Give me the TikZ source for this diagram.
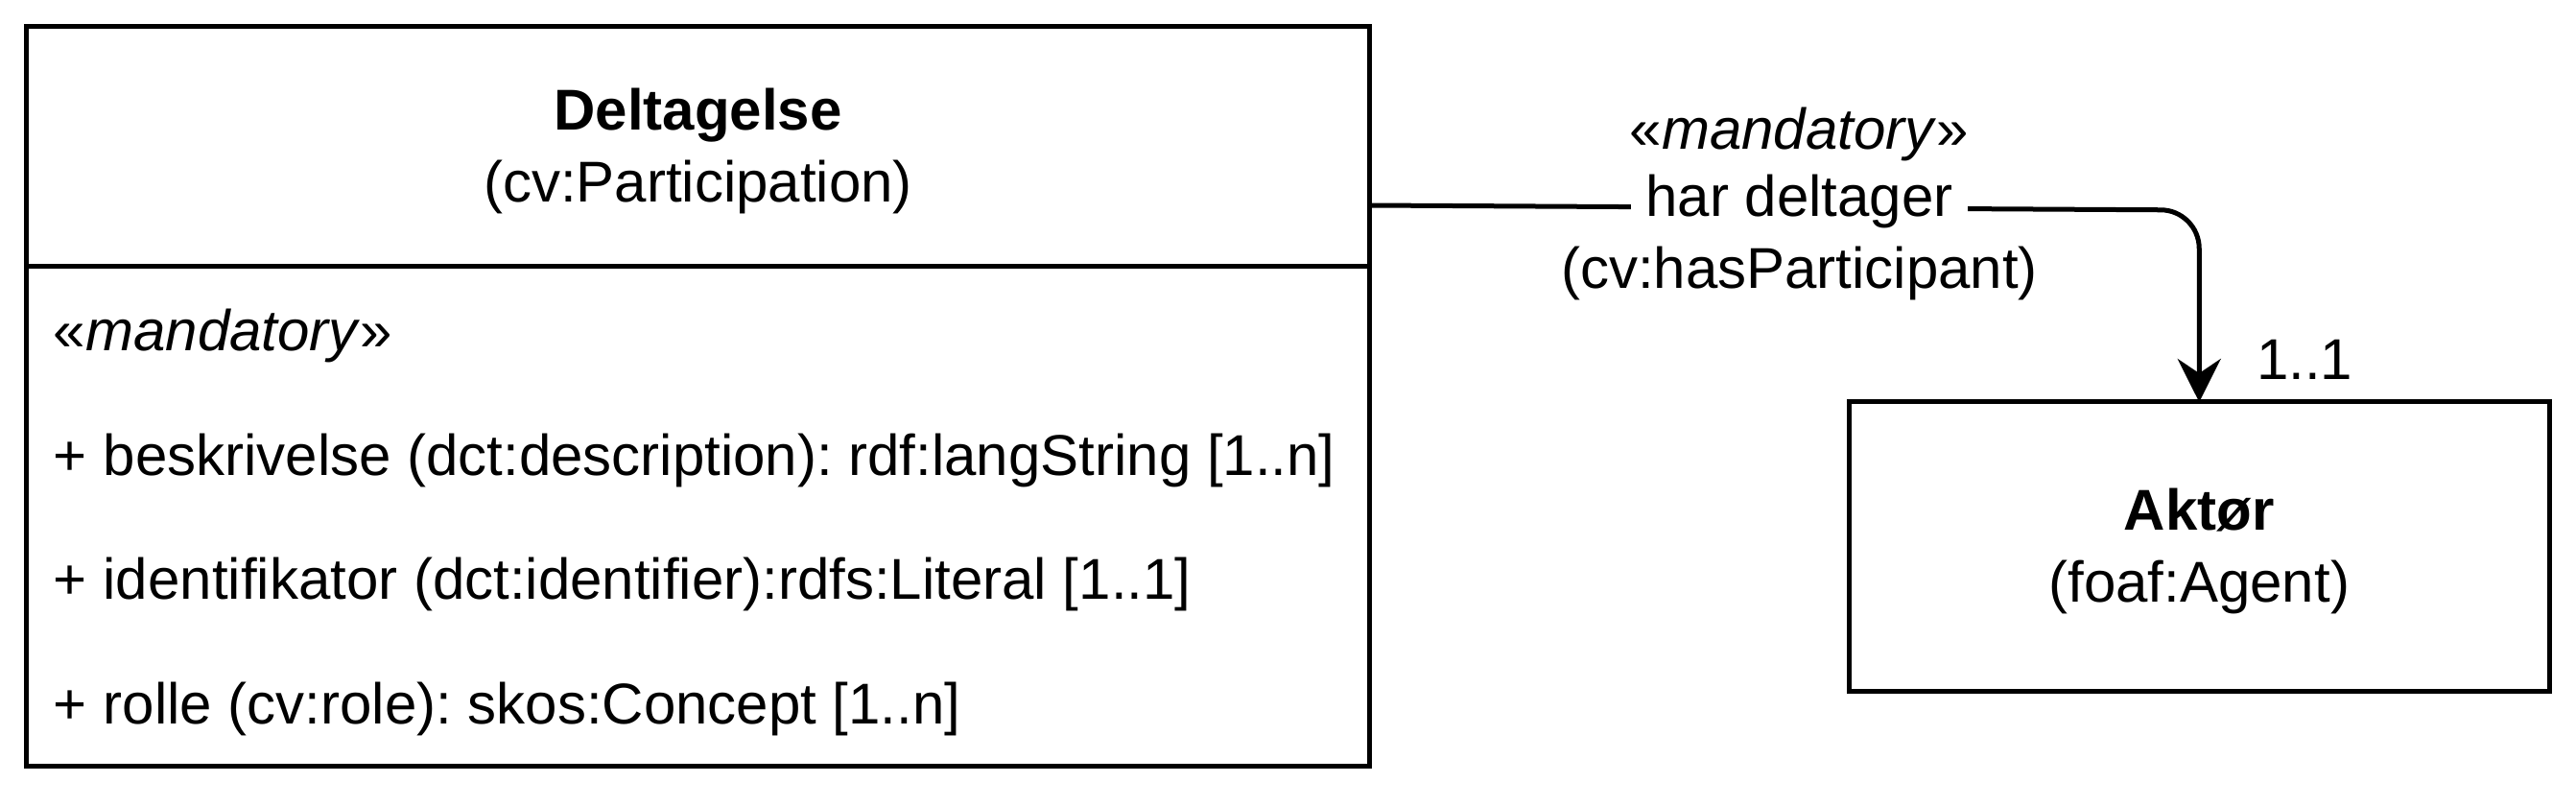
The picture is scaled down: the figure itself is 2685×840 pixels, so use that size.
\documentclass[tikz,border=0pt]{standalone}
\usepackage{fontspec}
\setmainfont{Liberation Sans}
\usetikzlibrary{arrows.meta, positioning}
\frenchspacing

\newcommand{\klassenavn}[1]{\rule{0pt}{10.7pt}\textbf{#1}}

\tikzset{
  klasse/.style={draw, line width=1pt, outer sep=0pt, inner sep=0pt, minimum width=280pt, align=center},
  attr/.style={anchor=base west, inner sep=0pt},
  rolletekst/.style={anchor=base, inner sep=0pt},
}

\begin{document}
\begin{tikzpicture}[x=0.2pt, y=-0.2pt, >={Stealth[length=9pt,width=9pt,inset=3pt]}, font=\fontsize{12}{15}\selectfont]
  \useasboundingbox (0,0) rectangle (2685,840);

  \node[klasse, minimum height=49.9pt, anchor=north west] (deltagelse) at (27.5,27.5) {\klassenavn{Deltagelse}\\(cv:Participation)};
  \node[klasse, minimum height=104.2pt, below=0pt of deltagelse] (attributter) {};

  \node[attr] (stereotype) at (55,365) {«\textit{mandatory}»};
  \node[attr] (beskrivelse) at (55,495) {+ beskrivelse (dct:description): rdf:langString [1..n]};
  \node[attr] (identifikator) at (55,624) {+ identifikator (dct:identifier):rdfs:Literal [1..1]};
  \node[attr] (rolle) at (55,754) {+ rolle (cv:role): skos:Concept [1..n]};

  \node[klasse, minimum width=145.9pt, minimum height=60.2pt] (aktor) at (2292.25,569.5) {\klassenavn{Aktør}\\(foaf:Agent)};

  \coordinate (kilde) at (deltagelse.east |- 0,214);
  \draw[->, line width=1pt, rounded corners=8pt] (kilde) -- (aktor.north |- 0,219) -- (aktor.north);

  \node[rolletekst, fill=white, minimum width=70.2pt] (hardeltager) at (1875.5,225) {har deltager};
  \node[rolletekst] (relstereotype) at (1875.5,155) {«\textit{mandatory}»};
  \node[rolletekst] (relnavn) at (1875.5,300) {(cv:hasParticipant)};
  \node[attr] (mult) at (2351,395) {1..1};
\end{tikzpicture}
\end{document}
